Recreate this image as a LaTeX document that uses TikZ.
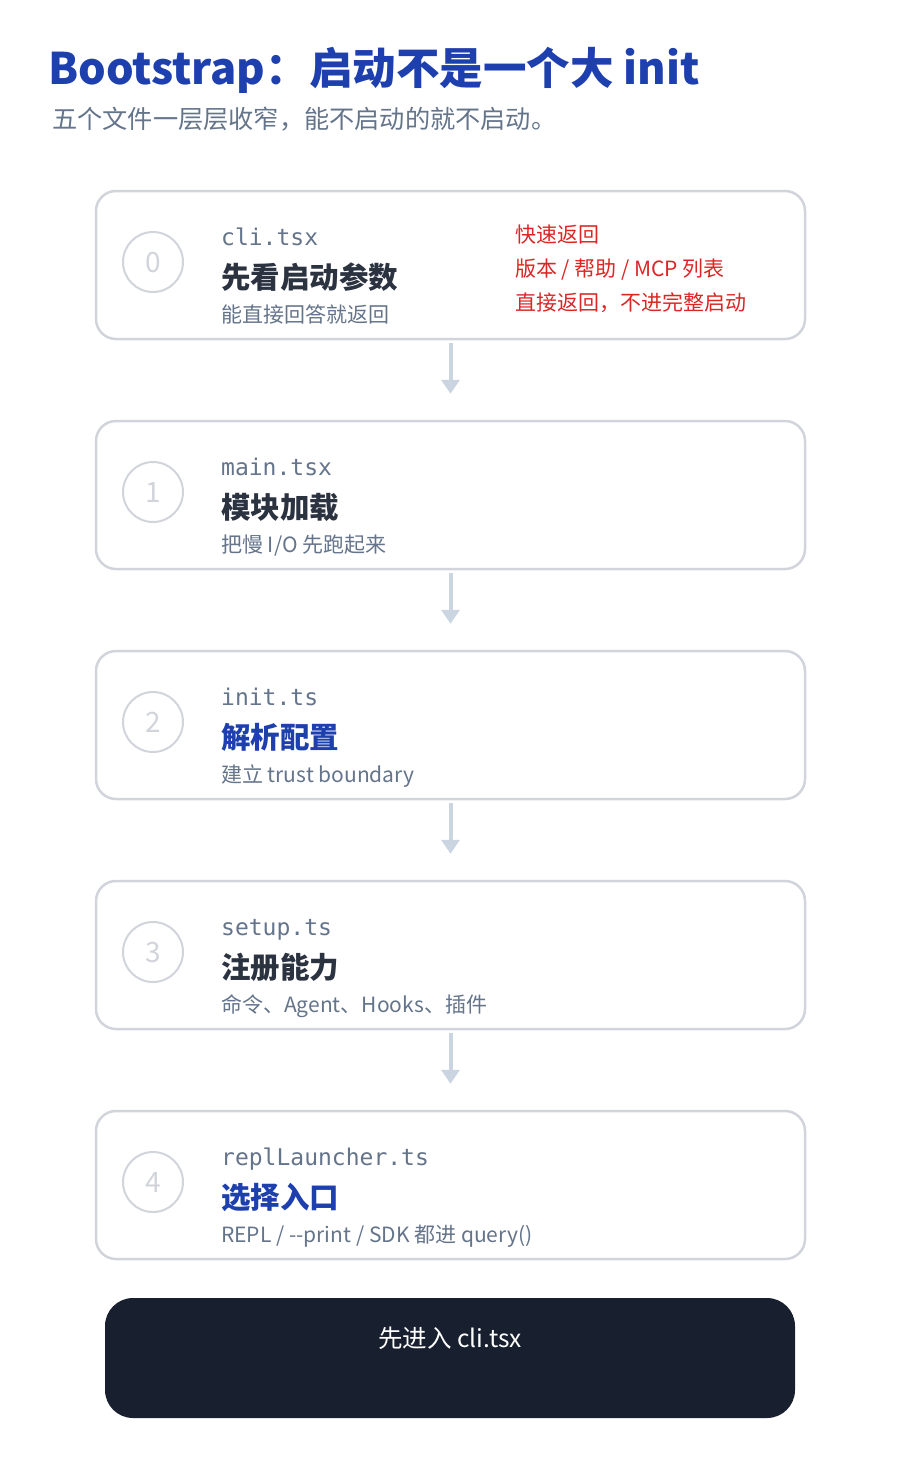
\documentclass[tikz,border=0pt]{standalone}
\usepackage{fontspec}
\setmainfont{Noto Sans CJK SC}
\newfontfamily\monof{DejaVu Sans Mono}
\usetikzlibrary{arrows.meta}
\definecolor{titleblue}{HTML}{1E40AF}
\definecolor{subgray}{HTML}{64748B}
\definecolor{cardborder}{HTML}{D1D5DB}
\definecolor{darktext}{HTML}{2B3240}
\definecolor{arrowc}{HTML}{CBD5E1}
\definecolor{redtext}{HTML}{DC2626}
\definecolor{darkbox}{HTML}{18202F}
\definecolor{numgray}{HTML}{D1D5DB}
\tikzset{
  card/.style={draw=cardborder, line width=2.5pt, rounded corners=20pt, fill=white,
    minimum width=709pt, minimum height=148pt, inner sep=0pt},
  numcircle/.style={draw=cardborder, line width=2pt, circle, minimum size=60pt, inner sep=0pt},
  numtext/.style={text=numgray, font=\fontsize{28}{28}\selectfont, anchor=base, inner sep=0pt},
  fname/.style={anchor=base west, inner sep=0pt, text=subgray, font=\monof\fontsize{23}{23}\selectfont},
  ctitle/.style={anchor=base west, inner sep=0pt, text=darktext, font=\bfseries\fontsize{29.5}{29.5}\selectfont},
  ctitleblue/.style={ctitle, text=titleblue},
  csub/.style={anchor=base west, inner sep=0pt, text=subgray, font=\fontsize{21}{21}\selectfont},
  rednote/.style={anchor=base west, inner sep=0pt, text=redtext, font=\fontsize{21}{21}\selectfont},
  flow/.style={draw=arrowc, line width=4pt, -{Triangle[width=18pt,length=14pt]}, shorten <=3pt, shorten >=26pt},
}
\begin{document}
\begin{tikzpicture}[x=1pt,y=1pt]
\useasboundingbox (0,0) rectangle (900,-1460);
\fill[white] (0,0) rectangle (900,-1460);

\node[anchor=base west, inner sep=0pt, text=titleblue, font=\bfseries\fontsize{43.5}{43.5}\selectfont] (title) at (48,-84) {Bootstrap：启动不是一个大 init};
\node[anchor=base west, inner sep=0pt, text=subgray, font=\fontsize{25.2}{25.2}\selectfont] (subtitle) at (52,-128) {五个文件一层层收窄，能不启动的就不启动。};

% cards
\node[card] (card0) at (450.5,-265) {};
\node[card] (card1) at (450.5,-495) {};
\node[card] (card2) at (450.5,-725) {};
\node[card] (card3) at (450.5,-955) {};
\node[card] (card4) at (450.5,-1185) {};

% circles
\node[numcircle] (c0) at (153,-262) {};
\node[numcircle] (c1) at (153,-492) {};
\node[numcircle] (c2) at (153,-722) {};
\node[numcircle] (c3) at (153,-952) {};
\node[numcircle] (c4) at (153,-1182) {};
\node[numtext] (n0) at (153,-272) {0};
\node[numtext] (n1) at (153,-502) {1};
\node[numtext] (n2) at (153,-732) {2};
\node[numtext] (n3) at (153,-962) {3};
\node[numtext] (n4) at (153,-1192) {4};

% card 0
\node[fname] (f0) at (221,-245) {cli.tsx};
\node[ctitle] (t0) at (221,-288) {先看启动参数};
\node[csub] (s0) at (221,-322) {能直接回答就返回};
\node[rednote] (r0a) at (515,-242) {快速返回};
\node[rednote] (r0b) at (515,-276) {版本 / 帮助 / MCP 列表};
\node[rednote] (r0c) at (515,-310) {直接返回，不进完整启动};

% card 1
\node[fname] (f1) at (221,-475) {main.tsx};
\node[ctitle] (t1) at (221,-518) {模块加载};
\node[csub] (s1) at (221,-552) {把慢 I/O 先跑起来};

% card 2
\node[fname] (f2) at (221,-705) {init.ts};
\node[ctitleblue] (t2) at (221,-748) {解析配置};
\node[csub] (s2) at (221,-782) {建立 trust boundary};

% card 3
\node[fname] (f3) at (221,-935) {setup.ts};
\node[ctitle] (t3) at (221,-978) {注册能力};
\node[csub] (s3) at (221,-1012) {命令、Agent、Hooks、插件};

% card 4
\node[fname] (f4) at (221,-1165) {replLauncher.ts};
\node[ctitleblue] (t4) at (221,-1208) {选择入口};
\node[csub] (s4) at (221,-1242) {REPL / -{}-print / SDK 都进 query()};

% arrows
\draw[flow] (card0.south) -- (card1.north);
\draw[flow] (card1.south) -- (card2.north);
\draw[flow] (card2.south) -- (card3.north);
\draw[flow] (card3.south) -- (card4.north);

% bottom dark box
\node[fill=darkbox, rounded corners=28pt, minimum width=690pt, minimum height=120pt, inner sep=0pt] (entry) at (450,-1358) {};
\node[anchor=base, inner sep=0pt, text=white, font=\fontsize{24.5}{24.5}\selectfont] (entrytext) at (450,-1347) {先进入 cli.tsx};
\end{tikzpicture}
\end{document}
